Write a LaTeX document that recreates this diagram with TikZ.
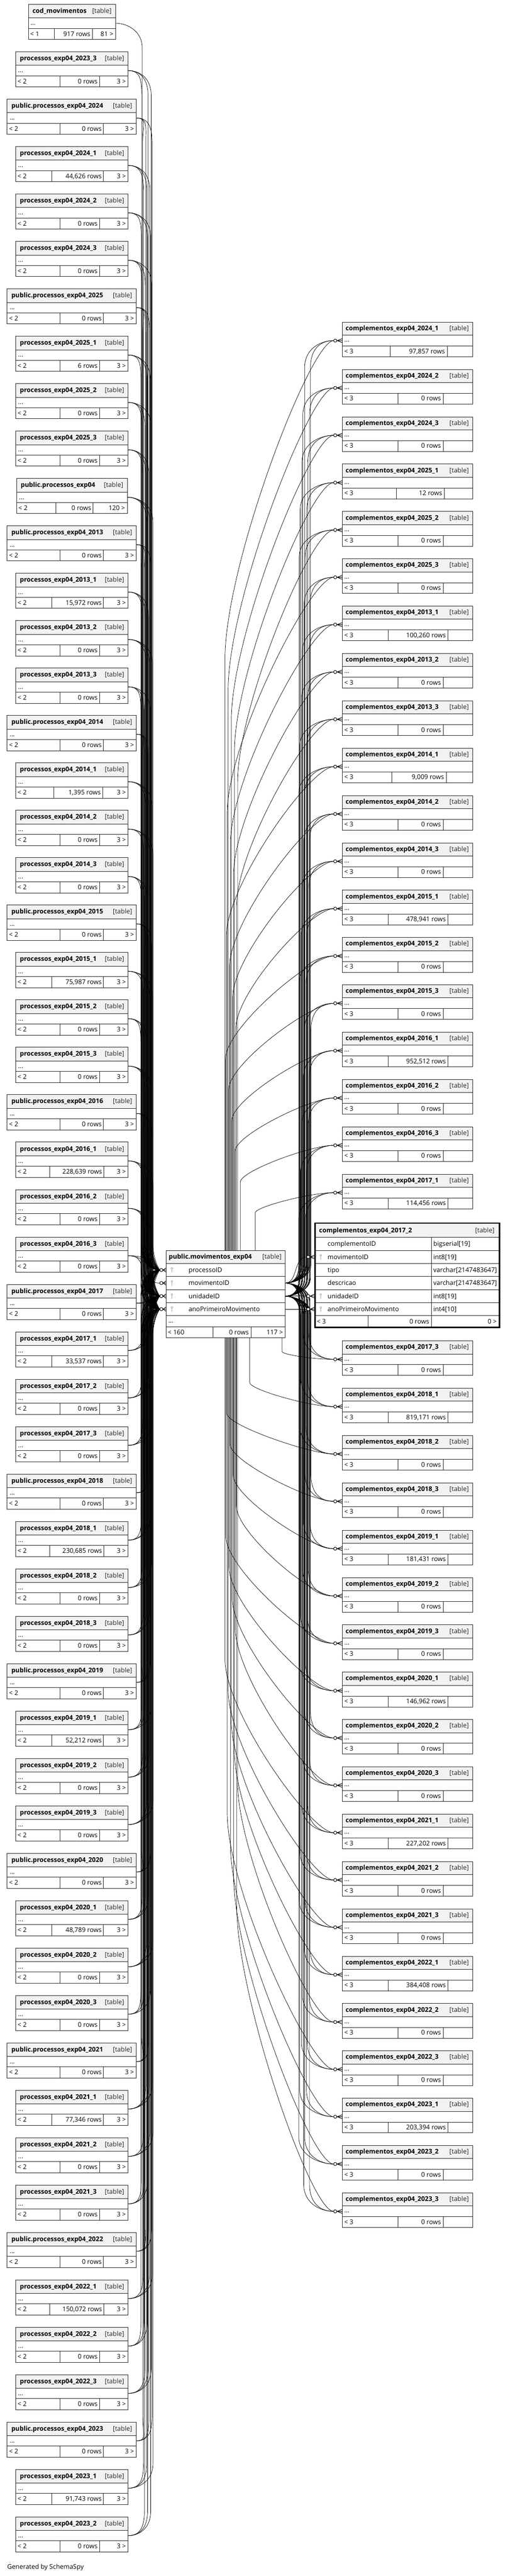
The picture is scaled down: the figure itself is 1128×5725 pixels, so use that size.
\documentclass[tikz,border=0pt]{standalone}
\usepackage{fontspec}
\setmainfont{Open Sans}
\pgfdeclarelayer{bg}
\pgfdeclarelayer{fg}
\pgfsetlayers{bg,main,fg}
\newcommand\fsz{\fontsize{14.3}{17}\selectfont}
\tikzset{
 tbl/.style={draw=black!85, line width=1.1pt},
 hdr/.style={tbl, fill=black!5},
 cellb/.style={tbl, fill=white},
 ttl/.style={font=\fsz\bfseries, anchor=base west, inner sep=0pt},
 tagt/.style={font=\fsz, anchor=base east, inner sep=0pt, text=black!85},
 txtl/.style={font=\fsz, anchor=base west, inner sep=0pt},
 txtr/.style={font=\fsz, anchor=base east, inner sep=0pt},
 edge/.style={line width=0.8pt, black},
 mk/.style={line width=1.1pt, black},
 keyc/.style={draw=black!35, line width=0.9pt},
}
% ---------- connectors ----------
\newcommand\Ledge[6]{% start name, sx, sy, end name, ey, bundle x
 \pgfmathsetmacro\myDy{#5-#3}%
 \pgfmathsetmacro\mySg{ifthenelse(\myDy<0,-1,1)}%
 \pgfmathsetmacro\myAd{abs(\myDy)}%
 \pgfmathsetmacro\myLa{min(55,\myAd/2)}%
 \pgfmathsetmacro\myLb{min(60,\myAd/2)}%
 \pgfmathsetmacro\myYa{#3+\mySg*\myLa}%
 \pgfmathsetmacro\myYac{#3+\mySg*\myLa*0.3}%
 \pgfmathsetmacro\myYb{#5-\mySg*\myLb}%
 \pgfmathsetmacro\myYbc{#5-\mySg*\myLb*0.35}%
 \draw[edge] (#1) .. controls ({#2+25},#3) and (#6,\myYac) .. (#6,\myYa) -- (#6,\myYb) .. controls (#6,\myYbc) and ({#6+15},#5) .. (#4);%
}
\newcommand\Redge[5]{% start name, sy, end name, ey, bundle x
 \pgfmathsetmacro\myDy{#4-#2}%
 \pgfmathsetmacro\mySg{ifthenelse(\myDy<0,-1,1)}%
 \pgfmathsetmacro\myAd{abs(\myDy)}%
 \pgfmathsetmacro\myLa{min(40,\myAd/2)}%
 \pgfmathsetmacro\myLb{min(60,\myAd/2)}%
 \pgfmathsetmacro\myYa{#2+\mySg*\myLa}%
 \pgfmathsetmacro\myYac{#2+\mySg*\myLa*0.3}%
 \pgfmathsetmacro\myYb{#4-\mySg*\myLb}%
 \pgfmathsetmacro\myYbc{#4-\mySg*\myLb*0.3}%
 \draw[edge] (#1) .. controls (652,#2) and (#5,\myYac) .. (#5,\myYa) -- (#5,\myYb) .. controls (#5,\myYbc) and (712,#4) .. (#3);%
}
\newcommand\Medge[5]{% start name, xs, ys, end name, ey
 \pgfmathsetmacro\myYv{#5+0.35*(#3-#5)}%
 \pgfmathsetmacro\myCy{#5+0.245*(#3-#5)}%
 \draw[edge] (#1) -- (#2,\myYv) .. controls (#2,\myCy) and (690,#5) .. (#4);%
}
% ---------- left tables ----------
\newcommand\Ltab[9]{% i, title, x0, x1, a, b, rows, lt, rt
 \pgfmathsetmacro\myT{10+105.35*#1}%
 \pgfmathsetmacro\myTa{\myT+30}%
 \pgfmathsetmacro\myTb{\myT+53.3}%
 \pgfmathsetmacro\myTc{\myT+78}%
 \path[hdr] (#3,\myT) rectangle (#4,\myTa);
 \path[cellb] (#3,\myTa) rectangle (#4,\myTb);
 \path[cellb] (#3,\myTb) rectangle (#4,\myTc);
 \draw[tbl] (#5,\myTb) -- (#5,\myTc) (#6,\myTb) -- (#6,\myTc);
 \node[ttl] (L#1t) at ({#3+9},{\myT+19.5}) {#2};
 \node[tagt] (L#1g) at ({#4-9},{\myT+19.5}) {\relax[table]};
 \node[txtl] (L#1d) at ({#3+5},{\myT+46}) {...};
 \node[txtl] (L#1l) at ({#3+4},{\myT+70.5}) {< #8};
 \node[txtr] (L#1m) at ({#6-4},{\myT+70.5}) {#7};
 \node[txtr] (L#1r) at ({#4-5},{\myT+70.5}) {#9 >};
 \coordinate (Lp#1) at (#4,{\myT+41.6});
}
\newcommand\Lthree[2]{%
 \pgfmathsetmacro\myYd{10+105.35*#1+41.6}%
 \pgfmathsetmacro\xbA{313+mod(#1*9+7,28)}%
 \pgfmathsetmacro\xbB{313+mod(#1*9+21,28)}%
 \pgfmathsetmacro\xbC{313+mod(#1*9+14,28)}%
 \begin{pgfonlayer}{bg}%
 \Ledge{Lp#1}{#2}{\myYd}{CL1}{2822.5}{\xbA}%
 \Ledge{Lp#1}{#2}{\myYd}{CL3}{2880.5}{\xbB}%
 \Ledge{Lp#1}{#2}{\myYd}{CL4}{2909.5}{\xbC}%
 \end{pgfonlayer}%
}
\newcommand\LtN[5]{\Ltab{#1}{processos\_exp04\_#2}{35}{285}{#4}{#5}{#3}{2}{3}\Lthree{#1}{285}}
\newcommand\LtZ[2]{\LtN{#1}{#2}{0 rows}{133}{221}}
\newcommand\LtP[2]{\Ltab{#1}{public.processos\_exp04\_#2}{16}{303}{133}{230}{0 rows}{2}{3}\Lthree{#1}{303}}
% ---------- right tables ----------
\newcommand\Rtab[5]{% j, suffix, rows, a, b
 \pgfmathsetmacro\myT{ifthenelse(#1<19,716+105.2*#1,2980+105.2*(#1-20))}%
 \pgfmathsetmacro\myTa{\myT+29}%
 \pgfmathsetmacro\myTb{\myT+53}%
 \pgfmathsetmacro\myTc{\myT+77}%
 \pgfmathsetmacro\myYm{\myT+41}%
 \path[hdr] (761,\myT) rectangle (1050,\myTa);
 \path[cellb] (761,\myTa) rectangle (1050,\myTb);
 \path[cellb] (761,\myTb) rectangle (1050,\myTc);
 \draw[tbl] (#4,\myTb) -- (#4,\myTc) (#5,\myTb) -- (#5,\myTc);
 \node[ttl] (R#1t) at (768,{\myT+18.5}) {complementos\_exp04\_#2};
 \node[tagt] (R#1g) at (1042,{\myT+18.5}) {\relax[table]};
 \node[txtl] (R#1d) at (765,{\myT+44}) {...};
 \node[txtl] (R#1l) at (765,{\myT+69.5}) {< 3};
 \node[txtr] (R#1m) at ({#5-5},{\myT+69.5}) {#3};
 \coordinate (Rm#1) at (741.5,\myYm);
 \begin{pgfonlayer}{fg}%
 \draw[mk,fill=white] (745,\myYm) circle[radius=3.5pt];
 \draw[mk] (749,\myYm) -- (761,{\myYm-4.5}) (749,\myYm) -- (761,\myYm) (749,\myYm) -- (761,{\myYm+4.5});
 \end{pgfonlayer}%
 \pgfmathsetmacro\xbA{664+mod(#1*11+13,28)}%
 \pgfmathsetmacro\xbB{664+mod(#1*11+26,28)}%
 \pgfmathsetmacro\myD{abs(#1-19)}%
 \pgfmathsetmacro\myYs{ifthenelse(#1<19,2779,2973)}%
 \pgfmathsetmacro\myXs{ifthenelse(\myD<1.5,ifthenelse(#1<19,567,627),ifthenelse(\myD<2.5,ifthenelse(#1<19,534,555),500+mod(#1*7,30)))}%
 \coordinate (Ms#1) at (\myXs,\myYs);
 \begin{pgfonlayer}{bg}%
 \Redge{CR2}{2851.5}{Rm#1}{\myYm}{\xbA}%
 \Redge{CR3}{2880.5}{Rm#1}{\myYm}{\xbB}%
 \Medge{Ms#1}{\myXs}{\myYs}{Rm#1}{\myYm}%
 \end{pgfonlayer}%
}
\newcommand\RtZ[2]{\Rtab{#1}{#2}{0 rows}{885}{985}}
\newcommand\keyicon[2]{\draw[keyc] (#1,{#2-3.5}) circle[radius=2.2pt]; \draw[keyc] (#1,{#2-1.3}) -- (#1,{#2+6});}
\begin{document}
\begin{tikzpicture}[x=1pt,y=-1pt]
\useasboundingbox (0,0) rectangle (1128,5725);
\begin{pgfonlayer}{bg}
\fill[white] (0,0) rectangle (1128,5725);
\end{pgfonlayer}
% central port coordinates
\coordinate (CL1) at (355,2822.5);
\coordinate (CL2) at (355,2851.5);
\coordinate (CL3) at (355,2880.5);
\coordinate (CL4) at (355,2909.5);
\coordinate (CR2) at (634,2851.5);
\coordinate (CR3) at (634,2880.5);
\coordinate (CR4) at (634,2909.5);
% ===== central table =====
\path[hdr] (369,2779) rectangle (634,2808);
\path[cellb] (369,2808) rectangle (634,2837);
\path[cellb] (369,2837) rectangle (634,2866);
\path[cellb] (369,2866) rectangle (634,2895);
\path[cellb] (369,2895) rectangle (634,2924);
\path[cellb] (369,2924) rectangle (634,2949);
\path[cellb] (369,2949) rectangle (634,2973);
\draw[tbl] (474,2949) -- (474,2973) (558,2949) -- (558,2973);
\node[ttl] (Ct) at (375,2797.5) {public.movimentos\_exp04};
\node[tagt] (Cg) at (626,2797.5) {\relax[table]};
\keyicon{382}{2822.5}\keyicon{382}{2851.5}\keyicon{382}{2880.5}\keyicon{382}{2909.5}
\node[txtl] (C1) at (419,2827.5) {processoID};
\node[txtl] (C2) at (419,2856.5) {movimentoID};
\node[txtl] (C3) at (419,2885.5) {unidadeID};
\node[txtl] (C4) at (419,2914.5) {anoPrimeiroMovimento};
\node[txtl] (Cd) at (374,2940) {...};
\node[txtl] (Cl) at (373,2966) {< 160};
\node[txtr] (Cm) at (553,2966) {0 rows};
\node[txtr] (Cr) at (629,2966) {117 >};
\begin{pgfonlayer}{fg}
\foreach \yy in {2822.5,2851.5,2880.5,2909.5}{
 \draw[mk,fill=white] (358.5,\yy) circle[radius=3.5pt];
 \draw[mk] (362,\yy) -- (369,\yy-4.5) (362,\yy) -- (369,\yy) (362,\yy) -- (369,\yy+4.5);
}
\end{pgfonlayer}
% ===== expanded table complementos_exp04_2017_2 =====
\path[hdr] (700,2718) rectangle (1110,2750);
\foreach \ya/\yb in {2750/2779,2779/2808,2808/2837,2837/2866,2866/2895,2895/2924}{
 \path[cellb] (700,\ya) rectangle (959,\yb);
 \path[cellb] (959,\ya) rectangle (1110,\yb);
}
\path[cellb] (700,2924) rectangle (1110,2950);
\draw[tbl] (818,2924) -- (818,2950) (959,2924) -- (959,2950);
\draw[line width=3pt, black] (700,2718) rectangle (1110,2950);
\node[ttl] (Xt) at (709,2739) {complementos\_exp04\_2017\_2};
\node[tagt] (Xg) at (1099,2739) {\relax[table]};
\node[txtl] (X1) at (728,2769.5) {complementoID};
\node[txtl] (X2) at (728,2798.5) {movimentoID};
\node[txtl] (X3) at (728,2827.5) {tipo};
\node[txtl] (X4) at (728,2856.5) {descricao};
\node[txtl] (X5) at (728,2885.5) {unidadeID};
\node[txtl] (X6) at (728,2914.5) {anoPrimeiroMovimento};
\node[txtl] (Y1) at (963,2769.5) {bigserial[19]};
\node[txtl] (Y2) at (963,2798.5) {int8[19]};
\node[txtl] (Y3) at (963,2827.5) {varchar[2147483647]};
\node[txtl] (Y4) at (963,2856.5) {varchar[2147483647]};
\node[txtl] (Y5) at (963,2885.5) {int8[19]};
\node[txtl] (Y6) at (963,2914.5) {int4[10]};
\keyicon{713}{2793.5}\keyicon{713}{2880.5}\keyicon{713}{2909.5}
\node[txtl] (Xl) at (704,2942.5) {< 3};
\node[txtr] (Xm) at (954,2942.5) {0 rows};
\node[txtr] (Xr) at (1104,2942.5) {0 >};
\coordinate (RX2) at (681.5,2793.5);
\coordinate (RX3) at (681.5,2880.5);
\coordinate (RX4) at (681.5,2909.5);
\begin{pgfonlayer}{fg}
\foreach \yy in {2793.5,2880.5,2909.5}{
 \draw[mk,fill=white] (685,\yy) circle[radius=3.5pt];
 \draw[mk] (689,\yy) -- (700,\yy-4.5) (689,\yy) -- (700,\yy) (689,\yy) -- (700,\yy+4.5);
}
\end{pgfonlayer}
\begin{pgfonlayer}{bg}
\draw[edge] (CR2) .. controls (662,2851.5) and (652,2793.5) .. (RX2);
\draw[edge] (CR3) -- (RX3);
\draw[edge] (CR4) -- (RX4);
\end{pgfonlayer}
% ===== left column =====
\Ltab{0}{cod\_movimentos}{63}{257}{121}{205}{917 rows}{1}{81}
\begin{pgfonlayer}{bg}\Ledge{Lp0}{257}{51.6}{CL2}{2851.5}{316}\end{pgfonlayer}
\LtZ{1}{2023\_3}
\LtP{2}{2024}
\LtN{3}{2024\_1}{44,626 rows}{115}{230}
\LtZ{4}{2024\_2}
\LtZ{5}{2024\_3}
\LtP{6}{2025}
\LtN{7}{2025\_1}{6 rows}{133}{221}
\LtZ{8}{2025\_2}
\LtZ{9}{2025\_3}
\Ltab{10}{public.processos\_exp04}{37}{283}{124}{207}{0 rows}{2}{120}\Lthree{10}{283}
\LtP{11}{2013}
\LtN{12}{2013\_1}{15,972 rows}{115}{230}
\LtZ{13}{2013\_2}
\LtZ{14}{2013\_3}
\LtP{15}{2014}
\LtN{16}{2014\_1}{1,395 rows}{120}{228}
\LtZ{17}{2014\_2}
\LtZ{18}{2014\_3}
\LtP{19}{2015}
\LtN{20}{2015\_1}{75,987 rows}{115}{230}
\LtZ{21}{2015\_2}
\LtZ{22}{2015\_3}
\LtP{23}{2016}
\LtN{24}{2016\_1}{228,639 rows}{111}{231}
\LtZ{25}{2016\_2}
\LtZ{26}{2016\_3}
\LtP{27}{2017}
\LtN{28}{2017\_1}{33,537 rows}{115}{230}
\LtZ{29}{2017\_2}
\LtZ{30}{2017\_3}
\LtP{31}{2018}
\LtN{32}{2018\_1}{230,685 rows}{111}{231}
\LtZ{33}{2018\_2}
\LtZ{34}{2018\_3}
\LtP{35}{2019}
\LtN{36}{2019\_1}{52,212 rows}{115}{230}
\LtZ{37}{2019\_2}
\LtZ{38}{2019\_3}
\LtP{39}{2020}
\LtN{40}{2020\_1}{48,789 rows}{115}{230}
\LtZ{41}{2020\_2}
\LtZ{42}{2020\_3}
\LtP{43}{2021}
\LtN{44}{2021\_1}{77,346 rows}{115}{230}
\LtZ{45}{2021\_2}
\LtZ{46}{2021\_3}
\LtP{47}{2022}
\LtN{48}{2022\_1}{150,072 rows}{111}{231}
\LtZ{49}{2022\_2}
\LtZ{50}{2022\_3}
\LtP{51}{2023}
\LtN{52}{2023\_1}{91,743 rows}{115}{230}
\LtZ{53}{2023\_2}
% ===== right column =====
\Rtab{0}{2024\_1}{97,857 rows}{867}{994}
\RtZ{1}{2024\_2}
\RtZ{2}{2024\_3}
\Rtab{3}{2025\_1}{12 rows}{881}{988}
\RtZ{4}{2025\_2}
\RtZ{5}{2025\_3}
\Rtab{6}{2013\_1}{100,260 rows}{863}{996}
\RtZ{7}{2013\_2}
\RtZ{8}{2013\_3}
\Rtab{9}{2014\_1}{9,009 rows}{871}{992}
\RtZ{10}{2014\_2}
\RtZ{11}{2014\_3}
\Rtab{12}{2015\_1}{478,941 rows}{863}{996}
\RtZ{13}{2015\_2}
\RtZ{14}{2015\_3}
\Rtab{15}{2016\_1}{952,512 rows}{863}{996}
\RtZ{16}{2016\_2}
\RtZ{17}{2016\_3}
\Rtab{18}{2017\_1}{114,456 rows}{863}{996}
\RtZ{20}{2017\_3}
\Rtab{21}{2018\_1}{819,171 rows}{863}{996}
\RtZ{22}{2018\_2}
\RtZ{23}{2018\_3}
\Rtab{24}{2019\_1}{181,431 rows}{863}{996}
\RtZ{25}{2019\_2}
\RtZ{26}{2019\_3}
\Rtab{27}{2020\_1}{146,962 rows}{863}{996}
\RtZ{28}{2020\_2}
\RtZ{29}{2020\_3}
\Rtab{30}{2021\_1}{227,202 rows}{863}{996}
\RtZ{31}{2021\_2}
\RtZ{32}{2021\_3}
\Rtab{33}{2022\_1}{384,408 rows}{863}{996}
\RtZ{34}{2022\_2}
\RtZ{35}{2022\_3}
\Rtab{36}{2023\_1}{203,394 rows}{863}{996}
\RtZ{37}{2023\_2}
\RtZ{38}{2023\_3}
\node[txtl] (gen) at (16,5710) {Generated by SchemaSpy};
\end{tikzpicture}
\end{document}
